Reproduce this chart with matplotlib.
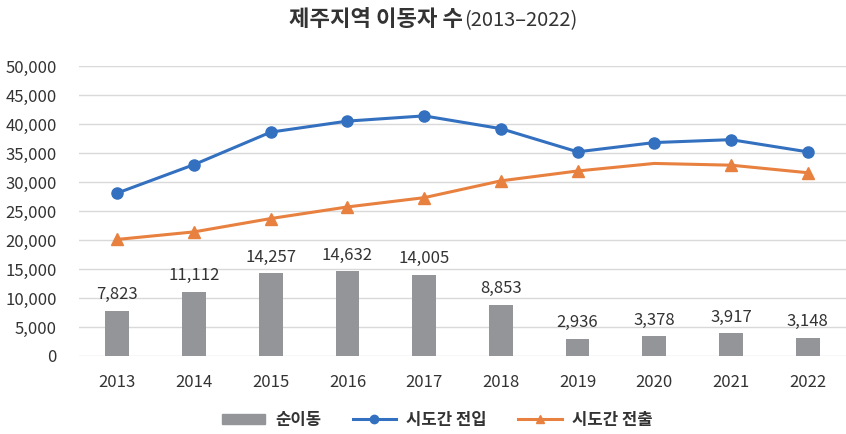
import matplotlib
matplotlib.use("Agg")
import matplotlib.pyplot as plt
from matplotlib.lines import Line2D
from matplotlib.patches import Patch
import numpy as np

plt.rcParams['font.family'] = ['Noto Sans CJK KR', 'DejaVu Sans']

years = ['2013', '2014', '2015', '2016', '2017', '2018', '2019', '2020', '2021', '2022']
net_move = [7823, 11112, 14257, 14632, 14005, 8853, 2936, 3378, 3917, 3148]
move_in = [28100, 33000, 38600, 40500, 41400, 39200, 35200, 36800, 37300, 35200]
move_out = [20100, 21400, 23700, 25700, 27300, 30200, 31900, 33200, 32900, 31600]

GRAY = '#939598'
BLUE = '#3370BF'
ORANGE = '#E8803F'
TXT = '#333333'

fig = plt.figure(figsize=(8.46, 4.34), dpi=100)
ax = fig.add_axes([79/846, 1 - 356/434, 1 - 79/846, 290/434])

x = np.arange(len(years))
ax.bar(x, net_move, width=0.31, color=GRAY, zorder=2)
ax.plot(x, move_in, color=BLUE, lw=2.2, marker='o', ms=8, zorder=3)
# 2020 점은 원본에서 표식이 안 보임
ax.plot(x, move_out, color=ORANGE, lw=2.2, marker='^', ms=8, zorder=3,
        markevery=[0, 1, 2, 3, 4, 5, 6, 8, 9])

for xi, v in zip(x, net_move):
    ax.text(xi, v + 1300, f'{v:,}', ha='center', va='bottom', fontsize=12, color=TXT)

ax.set_xlim(-0.5, len(years) - 0.5)
ax.set_ylim(0, 50000)
ax.set_yticks(np.arange(0, 50001, 5000))
ax.set_yticklabels([f'{t:,}' for t in range(0, 50001, 5000)])
ax.set_xticks(x)
ax.set_xticklabels(years)
ax.tick_params(length=0, labelsize=12, colors=TXT)
ax.tick_params(axis='x', pad=13)
ax.tick_params(axis='y', pad=16)
ax.grid(axis='y', color='#D9D9D9', lw=1, zorder=0)
for s in ax.spines.values():
    s.set_visible(False)

fig.text(463/846, 1 - 20/434, '제주지역 이동자 수', ha='right', va='center',
         fontsize=16, fontweight='bold', color=TXT)
fig.text(464/846, 1 - 21/434, '(2013–2022)', ha='left', va='center',
         fontsize=14.5, color=TXT)

handles = [Patch(color=GRAY),
           Line2D([], [], color=BLUE, lw=2.2, marker='o', ms=6),
           Line2D([], [], color=ORANGE, lw=2.2, marker='^', ms=6)]
labels = ['순이동', '시도간 전입', '시도간 전출']
fig.legend(handles, labels, loc='center', bbox_to_anchor=(437/846, 1 - 420/434), ncol=3,
           frameon=False, handlelength=2.6, handleheight=0.6, columnspacing=1.9,
           handletextpad=0.6, prop={'weight': 'bold', 'size': 12}, labelcolor=TXT)

fig.savefig('out.png', dpi=100)
